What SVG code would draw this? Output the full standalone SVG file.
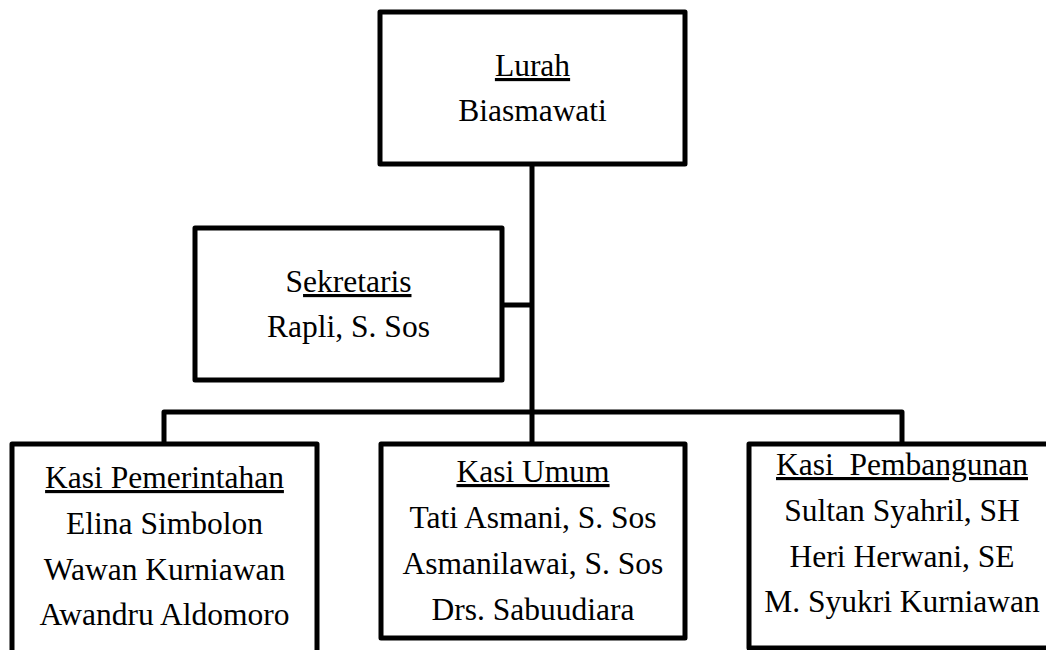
<svg xmlns="http://www.w3.org/2000/svg" width="1046" height="650" viewBox="0 0 1046 650">
<style>
  .box { fill: #fff; stroke: #000; stroke-width: 5; stroke-linejoin: round; }
  .conn { fill: none; stroke: #000; stroke-width: 5; stroke-linejoin: round; }
  text { font-family: "Liberation Serif", "Times New Roman", serif; font-size: 31.5px; fill: #000; text-anchor: middle; }
  .u { text-decoration: underline; }
</style>
<rect width="1046" height="650" fill="#fff"/>
<g id="connectors">
  <path class="conn" d="M532 164 V412"/>
  <path class="conn" d="M502 305 H532"/>
  <path class="conn" d="M164 444 V412 H902 V444"/>
  <path class="conn" d="M532 412 V444"/>
</g>
<g id="lurah">
  <rect class="box" x="380" y="12" width="305" height="152"/>
  <text x="532.5" y="76"><tspan class="u">Lurah</tspan></text>
  <text x="532.5" y="121">Biasmawati</text>
</g>
<g id="sekretaris">
  <rect class="box" x="195" y="228" width="307" height="152"/>
  <text x="348.5" y="292">S<tspan class="u">ekretaris</tspan></text>
  <text x="348.5" y="337">Rapli, S. Sos</text>
</g>
<g id="kasi-pemerintahan">
  <rect class="box" x="12" y="444" width="305" height="230"/>
  <text x="164.5" y="488"><tspan class="u">Kasi Pemerintahan</tspan></text>
  <text x="164.5" y="534">Elina Simbolon</text>
  <text x="164.5" y="580">Wawan Kurniawan</text>
  <text x="164.5" y="625">Awandru Aldomoro</text>
</g>
<g id="kasi-umum">
  <rect class="box" x="381" y="444" width="304" height="194"/>
  <text x="533" y="482"><tspan class="u">Kasi Umum</tspan></text>
  <text x="533" y="528">Tati Asmani, S. Sos</text>
  <text x="533" y="574">Asmanilawai, S. Sos</text>
  <text x="533" y="620">Drs. Sabuudiara</text>
</g>
<g id="kasi-pembangunan">
  <rect class="box" x="749" y="444" width="306" height="204"/>
  <text x="902" y="475" xml:space="preserve"><tspan class="u">Kasi  Pembangunan</tspan></text>
  <text x="902" y="521">Sultan Syahril, SH</text>
  <text x="902" y="567">Heri Herwani, SE</text>
  <text x="902" y="612">M. Syukri Kurniawan</text>
</g>
</svg>
